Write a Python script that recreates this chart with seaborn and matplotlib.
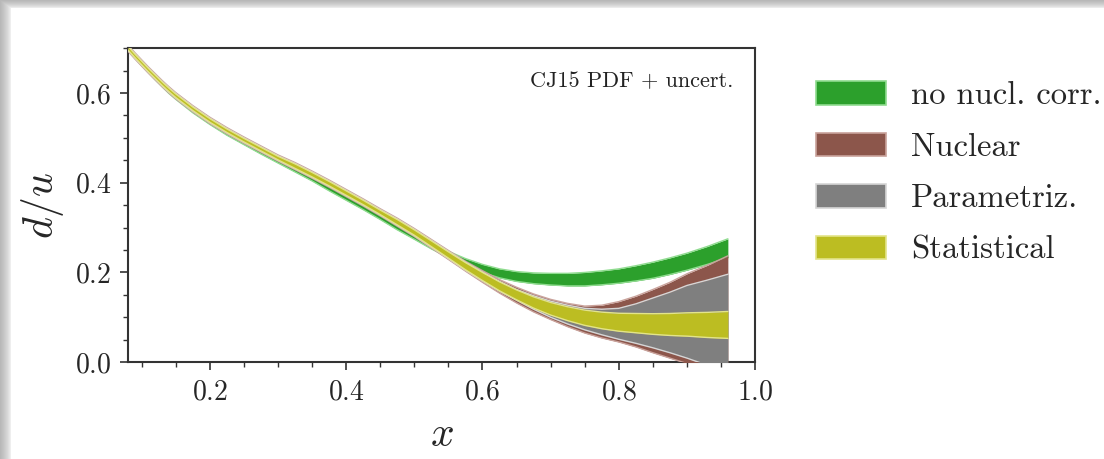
import numpy as np
import pandas as pd
import matplotlib
matplotlib.use("Agg")
import matplotlib.pyplot as plt
from matplotlib.patches import Patch
from matplotlib.ticker import MultipleLocator
import seaborn as sns

# ---------------- data ----------------
x_vals = [0.08, 0.09, 0.10, 0.11, 0.12, 0.13, 0.14, 0.15, 0.175, 0.20,
          0.225, 0.25, 0.275, 0.30, 0.325, 0.35, 0.375, 0.40, 0.425, 0.45,
          0.475, 0.50, 0.525, 0.55, 0.575, 0.60, 0.625, 0.65, 0.675, 0.70,
          0.725, 0.75, 0.775, 0.80, 0.825, 0.85, 0.875, 0.90, 0.93, 0.96]
# CJ15 central d/u (with nuclear corrections)
central = [0.700, 0.683, 0.667, 0.651, 0.636, 0.621, 0.607, 0.594, 0.565, 0.539,
           0.516, 0.495, 0.475, 0.455, 0.437, 0.418, 0.398, 0.377, 0.356, 0.334,
           0.312, 0.289, 0.264, 0.239, 0.214, 0.191, 0.169, 0.150, 0.133, 0.119,
           0.108, 0.099, 0.093, 0.089, 0.087, 0.085, 0.084, 0.084, 0.083, 0.083]
stat_err = [0.004, 0.004, 0.004, 0.004, 0.004, 0.004, 0.004, 0.004, 0.004, 0.004,
            0.004, 0.004, 0.004, 0.004, 0.005, 0.005, 0.005, 0.005, 0.005, 0.005,
            0.006, 0.006, 0.0065, 0.007, 0.008, 0.009, 0.010, 0.011, 0.0125, 0.014,
            0.0155, 0.017, 0.0185, 0.020, 0.0215, 0.023, 0.0245, 0.026, 0.028, 0.030]
param_up = [0.005, 0.005, 0.005, 0.005, 0.005, 0.005, 0.005, 0.005, 0.005, 0.005,
            0.005, 0.005, 0.005, 0.005, 0.006, 0.006, 0.006, 0.006, 0.006, 0.006,
            0.007, 0.007, 0.0075, 0.008, 0.009, 0.010, 0.011, 0.012, 0.015, 0.017,
            0.019, 0.021, 0.025, 0.031, 0.043, 0.058, 0.072, 0.087, 0.100, 0.113]
param_dn = [0.005, 0.005, 0.005, 0.005, 0.005, 0.005, 0.005, 0.005, 0.005, 0.005,
            0.005, 0.005, 0.005, 0.005, 0.006, 0.006, 0.006, 0.006, 0.006, 0.006,
            0.007, 0.007, 0.0075, 0.008, 0.009, 0.010, 0.011, 0.012, 0.015, 0.019,
            0.023, 0.027, 0.032, 0.038, 0.045, 0.053, 0.063, 0.075, 0.090, 0.108]
nucl_up = [0.007, 0.007, 0.007, 0.007, 0.007, 0.007, 0.007, 0.007, 0.007, 0.007,
           0.007, 0.007, 0.007, 0.007, 0.008, 0.008, 0.008, 0.008, 0.008, 0.008,
           0.009, 0.009, 0.0095, 0.010, 0.011, 0.013, 0.015, 0.017, 0.019, 0.021,
           0.023, 0.026, 0.034, 0.046, 0.060, 0.077, 0.094, 0.113, 0.133, 0.154]
nucl_dn = [0.007, 0.007, 0.007, 0.007, 0.007, 0.007, 0.007, 0.007, 0.007, 0.007,
           0.007, 0.007, 0.007, 0.007, 0.008, 0.008, 0.008, 0.008, 0.008, 0.008,
           0.009, 0.009, 0.0095, 0.010, 0.011, 0.013, 0.015, 0.018, 0.021, 0.024,
           0.029, 0.034, 0.039, 0.044, 0.053, 0.064, 0.075, 0.087, 0.105, 0.128]
# d/u without nuclear corrections
no_nucl = [0.698, 0.681, 0.664, 0.648, 0.632, 0.617, 0.602, 0.589, 0.559, 0.533,
           0.510, 0.489, 0.468, 0.448, 0.428, 0.408, 0.387, 0.366, 0.345, 0.323,
           0.301, 0.280, 0.259, 0.240, 0.223, 0.209, 0.198, 0.191, 0.187, 0.185,
           0.184, 0.185, 0.188, 0.192, 0.198, 0.205, 0.214, 0.224, 0.238, 0.254]
no_nucl_err = [0.003, 0.003, 0.003, 0.003, 0.003, 0.003, 0.003, 0.003, 0.003, 0.003,
               0.004, 0.004, 0.004, 0.004, 0.004, 0.004, 0.005, 0.005, 0.005, 0.005,
               0.006, 0.006, 0.0065, 0.007, 0.008, 0.009, 0.010, 0.011, 0.012, 0.013,
               0.014, 0.015, 0.0155, 0.016, 0.017, 0.018, 0.0185, 0.019, 0.020, 0.021]

labels = ["no nucl. corr.", "Nuclear", "Parametriz.", "Statistical"]
x_ticks = [0.2, 0.4, 0.6, 0.8, 1.0]
y_ticks = [0.0, 0.2, 0.4, 0.6]

# ---------------- style ----------------
sns.set_theme(style="ticks")
plt.rcParams["font.family"] = "serif"
plt.rcParams["font.serif"] = ["cmr10", "DejaVu Serif"]
plt.rcParams["mathtext.fontset"] = "cm"
plt.rcParams["axes.formatter.use_mathtext"] = True
plt.rcParams["axes.unicode_minus"] = False

colors = {"green": "#2ca02c", "brown": "#8c564b", "gray": "#7f7f7f", "olive": "#bcbd22"}
edges = {"green": "#8fdc8f", "brown": "#c9a29b", "gray": "#d6d6d6", "olive": "#e3e48a"}

x = np.array(x_vals)
c = np.array(central)
df = pd.DataFrame({
    "x": x,
    "nn_lo": np.array(no_nucl) - np.array(no_nucl_err),
    "nn_hi": np.array(no_nucl) + np.array(no_nucl_err),
    "nu_lo": c - np.array(nucl_dn), "nu_hi": c + np.array(nucl_up),
    "pa_lo": c - np.array(param_dn), "pa_hi": c + np.array(param_up),
    "st_lo": c - np.array(stat_err), "st_hi": c + np.array(stat_err),
})

fig = plt.figure(figsize=(11.04, 4.59), dpi=100)

# screenshot-like shadow frame (top and left)
bg = fig.add_axes([0, 0, 1, 1], zorder=-10)
H, W = 459, 1104
yy, xx = np.mgrid[0:H, 0:W]
top = np.clip((8 - yy) / 8.0, 0, 1)
left = np.clip((11 - xx) / 11.0, 0, 1)
shade = np.maximum(top, left)
img = 1 - 0.28 * shade ** 0.6
bg.imshow(img, cmap="gray", vmin=0, vmax=1, aspect="auto", interpolation="bilinear")
bg.set_axis_off()

ax = fig.add_axes([0.116, 0.211, 0.568, 0.684])

bands = [("nn", "green"), ("nu", "brown"), ("pa", "gray"), ("st", "olive")]
for i, (key, col) in enumerate(bands):
    ax.fill_between(df["x"], df[key + "_lo"], df[key + "_hi"], color=colors[col],
                    lw=0, zorder=2 + i)
    for side in ("_lo", "_hi"):
        sns.lineplot(data=df, x="x", y=key + side, ax=ax, color=edges[col], lw=1.0,
                     zorder=2.5 + i, estimator=None, sort=False)

ax.set_xlim(0.08, 1.0)
ax.set_ylim(0.0, 0.7)
ax.set_xticks(x_ticks)
ax.set_yticks(y_ticks)
ax.set_xticklabels([f"${t:.1f}$" for t in x_ticks])
ax.set_yticklabels([f"${t:.1f}$" for t in y_ticks])
ax.xaxis.set_minor_locator(MultipleLocator(0.05))
ax.yaxis.set_minor_locator(MultipleLocator(0.05))
ax.tick_params(axis="both", which="major", direction="out", length=6, width=1.2,
               labelsize=20, color="#333333", pad=6)
ax.tick_params(axis="both", which="minor", direction="out", length=3.5, width=1.0,
               color="#333333")
for s in ax.spines.values():
    s.set_linewidth(1.5)
    s.set_color("#333333")

ax.set_xlabel("$x$", fontsize=30, labelpad=8)
ax.set_ylabel("$d/u$", fontsize=30, labelpad=6)
ax.text(0.965, 0.895, "CJ15 PDF + uncert.", transform=ax.transAxes, ha="right",
        va="center", fontsize=16, color="#222222")

handles = [Patch(facecolor=colors[k], edgecolor=edges[k], lw=1.2)
           for k in ["green", "brown", "gray", "olive"]]
fig.legend(handles, labels, loc="upper left", bbox_to_anchor=(0.727, 0.852),
           frameon=False, fontsize=23.5, handlelength=2.15, handleheight=0.75,
           labelspacing=0.68, handletextpad=0.78, borderaxespad=0)

fig.savefig("out.png", dpi=100)
